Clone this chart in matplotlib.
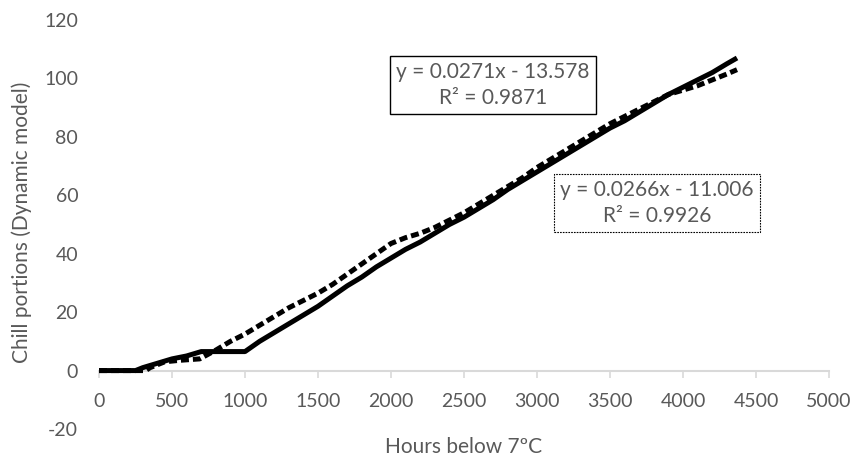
import matplotlib
matplotlib.use("Agg")
import matplotlib.pyplot as plt

plt.rcParams['font.family'] = ['Lato', 'DejaVu Sans']
plt.rcParams['axes.unicode_minus'] = False

# Series 1 (solid line)
solid_x = [0, 250, 300, 400, 500, 600, 700, 1000, 1100, 1200, 1300, 1400, 1500, 1600,
           1700, 1800, 1900, 2000, 2100, 2200, 2300, 2400, 2500, 2600, 2700, 2800,
           2900, 3000, 3100, 3200, 3300, 3400, 3500, 3600, 3700, 3800, 3900, 4000,
           4100, 4200, 4300, 4370]
solid_y = [0, 0, 1, 2.5, 4, 5, 6.5, 6.5, 10, 13, 16, 19, 22, 25.5,
           29, 32, 35.5, 38.5, 41.5, 44, 47, 50, 52.5, 55.5, 58.5, 62,
           65, 68, 71, 74, 77, 80, 83, 85.5, 88.5, 91.5, 94.5, 97,
           99.5, 102, 105, 107]

# Series 2 (dashed line)
dash_x = [0, 320, 350, 400, 450, 550, 690, 800, 900, 1000, 1100, 1200, 1300, 1400,
          1500, 1600, 1700, 1800, 1900, 2000, 2100, 2200, 2300, 2400, 2500, 2600,
          2700, 2800, 2900, 3000, 3100, 3200, 3300, 3400, 3500, 3600, 3700, 3800,
          3900, 4000, 4100, 4200, 4300, 4370]
dash_y = [0, 0, 1, 2, 3, 3.5, 4, 7, 10, 12.5, 15.5, 18.5, 21.5, 24,
          26.5, 29.5, 33, 36.5, 40, 43.5, 45.5, 47, 49, 51.5, 54, 57,
          60, 63, 66, 69.5, 72.5, 75.5, 78.5, 81.5, 84.5, 87, 89.5, 92,
          94.5, 96, 97.5, 99.5, 101.5, 103]

x_ticks = [0, 500, 1000, 1500, 2000, 2500, 3000, 3500, 4000, 4500, 5000]
y_ticks = [-20, 0, 20, 40, 60, 80, 100, 120]

eq_solid = "y = 0.0271x - 13.578\nR² = 0.9871"
eq_dash = "y = 0.0266x - 11.006\nR² = 0.9926"

gray = '#595959'

fig = plt.figure(figsize=(8.58, 4.66), dpi=100)
ax = fig.add_axes([99/858, 1-429/466, 730/858, 409/466])

ax.plot(solid_x, solid_y, color='black', lw=3.6, solid_capstyle='butt', zorder=3)
ax.plot(dash_x, dash_y, color='black', lw=3.6, dashes=(1.6, 0.8), zorder=3)

ax.set_xlim(0, 5000)
ax.set_ylim(-20, 120)
ax.set_xticks(x_ticks)
ax.set_yticks(y_ticks)

for s in ['top', 'right', 'left']:
    ax.spines[s].set_visible(False)
ax.spines['bottom'].set_position(('data', 0))
ax.spines['bottom'].set_color('#D9D9D9')
ax.spines['bottom'].set_linewidth(1.5)
ax.spines['bottom'].set_zorder(1)

ax.tick_params(axis='x', direction='out', length=5, width=1.2, color='#D9D9D9',
               labelcolor=gray, labelsize=14, pad=11)
ax.tick_params(axis='y', length=0, labelcolor=gray, labelsize=14, pad=15)

ax.set_xlabel('Hours below 7ºC', color=gray, fontsize=15)
ax.xaxis.label.set_verticalalignment('center')
ax.xaxis.set_label_coords((464-99)/730, (429-447)/409)
ax.set_ylabel('Chill portions (Dynamic model)', color=gray, fontsize=15)
ax.yaxis.label.set_verticalalignment('center')
ax.yaxis.set_label_coords((22-99)/730, (429-222)/409)

ax.text((493-99)/730, (429-85)/409, eq_solid, transform=ax.transAxes, ha='center', va='center',
        color=gray, fontsize=15, linespacing=1.4,
        bbox=dict(boxstyle='square,pad=0.3', fc='white', ec='black', lw=1.0))
ax.text((657-99)/730, (429-203)/409, eq_dash, transform=ax.transAxes, ha='center', va='center',
        color=gray, fontsize=15, linespacing=1.4,
        bbox=dict(boxstyle='square,pad=0.3', fc='white', ec='black', lw=0.8, ls=(0, (1.5, 1))))

fig.savefig('out.png', dpi=100)
